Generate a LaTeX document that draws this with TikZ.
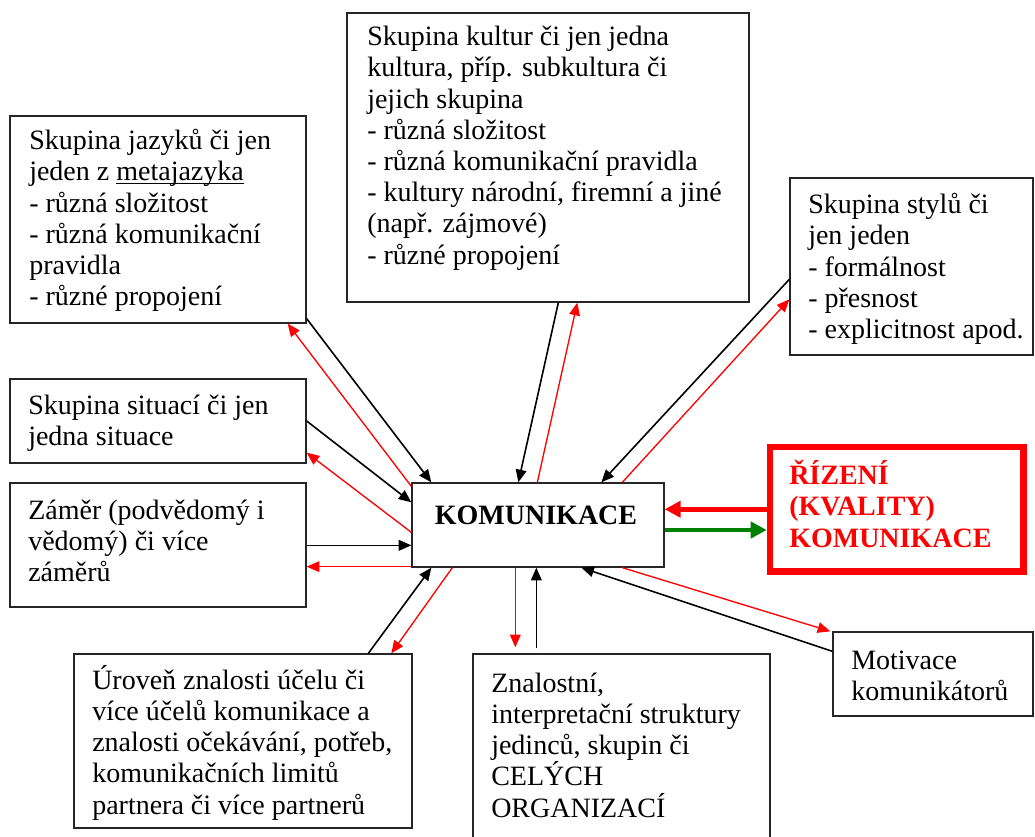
\documentclass[tikz,border=0pt]{standalone}
\usepackage{fontspec}
\setmainfont{Liberation Serif}
\usetikzlibrary{arrows.meta,fit,calc}
\definecolor{grn}{RGB}{0,128,0}
\newcommand\fsz{\fontsize{21}{23.4}\selectfont\lineskiplimit=-100pt\relax}
\newcommand\fszr{\fontsize{21}{23.6}\selectfont\lineskiplimit=-100pt\relax}
\newcommand\firstl{\rule{0pt}{20pt}}
\newcommand\uln[1]{\setbox0\hbox{#1}\rlap{\rule[-2.3pt]{\wd0}{0.9pt}}\box0}
\begin{document}
\begin{tikzpicture}[x=0.75pt,y=-0.75pt,
  box/.style={draw=black!85,line width=1pt,inner sep=0pt},
  txt/.style={anchor=north west,inner sep=0pt,align=left,font=\fsz},
  ba/.style={draw=black,line width=1.2pt,-{Triangle[length=9.5pt,width=8pt]}},
  ra/.style={draw=red,line width=1pt,-{Triangle[length=9.5pt,width=8pt]}},
  thk/.style={line width=3.4pt,-{Triangle[length=12pt,width=12pt]}}
]
\clip (0,0) rectangle (1035,837);
% boxes
\node[box,fit={(10,116)(306,323)}] (L1) {};
\node[box,fit={(347,13)(749,302)}] (T) {};
\node[box,fit={(790,178)(1033,355)}] (S) {};
\node[box,fit={(10,379)(306,463)}] (Si) {};
\node[box,fit={(10,483)(306,607)}] (Z) {};
\node[box,fit={(412,483)(664,567)}] (K) {};
\node[draw=red,line width=4.9pt,inner sep=0pt,fit={(770,447)(1023.5,571.5)}] (R) {};
\node[box,fit={(74,654)(412,828)}] (U) {};
\node[box,fit={(473,654)(770,850)}] (Zn) {};
\node[box,fit={(833,632)(1033,716)}] (M) {};
% texts
\node[txt] (L1t) at (29,122.8) {\firstl Skupina jazyků či jen\\jeden z \uln{metajazyka}\\- různá složitost\\- různá komunikační\\pravidla\\- různé propojení};
\node[txt] (Tt) at (367,18.8) {\firstl Skupina kultur či jen jedna\\kultura, příp. subkultura či\\jejich skupina\\- různá složitost\\- různá komunikační pravidla\\- kultury národní, firemní a jiné\\(např. zájmové)\\- různé propojení};
\node[txt] (St) at (808,186.8) {\firstl Skupina stylů či\\jen jeden\\- formálnost\\- přesnost\\- explicitnost apod.};
\node[txt] (Sit) at (28,387.3) {\firstl Skupina situací či jen\\jedna situace};
\node[txt] (Zt) at (28,492.3) {\firstl Záměr (podvědomý i\\vědomý) či více\\záměrů};
\node[txt] (Ut) at (92,662.3) {\firstl Úroveň znalosti účelu či\\více účelů komunikace a\\znalosti očekávání, potřeb,\\komunikačních limitů\\partnera či více partnerů};
\node[txt] (Znt) at (491,665.3) {\firstl Znalostní,\\interpretační struktury\\jedinců, skupin či\\CELÝCH\\ORGANIZACÍ};
\node[txt] (Mt) at (851,642.3) {\firstl Motivace\\komunikátorů};
\node[anchor=base,inner sep=0pt,font=\fsz\bfseries] (Kt) at (536,524) {KOMUNIKACE};
\node[txt,font=\fszr\bfseries,text=red] (Rt) at (789,457.3) {\firstl ŘÍZENÍ\\(KVALITY)\\KOMUNIKACE};
% connectors
\draw[ba] ($(L1.south east)+(0,-5)$) -- ($(K.north west)+(20,0)$);
\draw[ra] ($(K.north west)+(0,4)$) -- ($(L1.south east)+(-19,0)$);
\draw[ba] (Si.east) -- ($(K.north west)+(0,20)$);
\draw[ra] ($(K.north west)+(0,50)$) -- ($(Si.south east)+(0,-11)$);
\coordinate (z1) at ($(Z.north east)+(0,63)$);
\draw[ba] (z1) -- (z1 -| K.west);
\coordinate (z2) at ($(K.south west)+(0,-1)$);
\draw[ra] (z2) -- (z2 -| Z.east);
\draw[ba] ($(T.south west)+(212,0)$) -- ($(K.north west)+(107,0)$);
\draw[ra] ($(K.north west)+(126,0)$) -- ($(T.south west)+(231,0)$);
\draw[ba] ($(S.north west)+(0,102)$) -- ($(K.north west)+(190,0)$);
\draw[ra] ($(K.north west)+(211,0)$) -- ($(S.north west)+(0,122)$);
\draw[thk,draw=red] (R.west) -- (R.west -| K.east);
\coordinate (g1) at ($(K.east)+(0,5)$);
\draw[thk,draw=grn] (g1) -- (g1 -| R.west);
\draw[ba] ($(U.north west)+(295,0)$) -- ($(K.south west)+(20,0)$);
\draw[ra] ($(K.south west)+(41,0)$) -- ($(U.north west)+(318,0)$);
\coordinate (zt) at ($(Zn.north west)+(43,-6)$);
\draw[ra] (zt |- K.south) -- (zt);
\coordinate (zb) at ($(Zn.north west)+(64,-5)$);
\draw[ba] (zb) -- (zb |- K.south);
\draw[ra] ($(K.south west)+(211,0)$) -- ($(M.north west)+(-2,0)$);
\draw[ba] ($(M.north west)+(0,20)$) -- ($(K.south west)+(170,0)$);
\end{tikzpicture}
\end{document}
